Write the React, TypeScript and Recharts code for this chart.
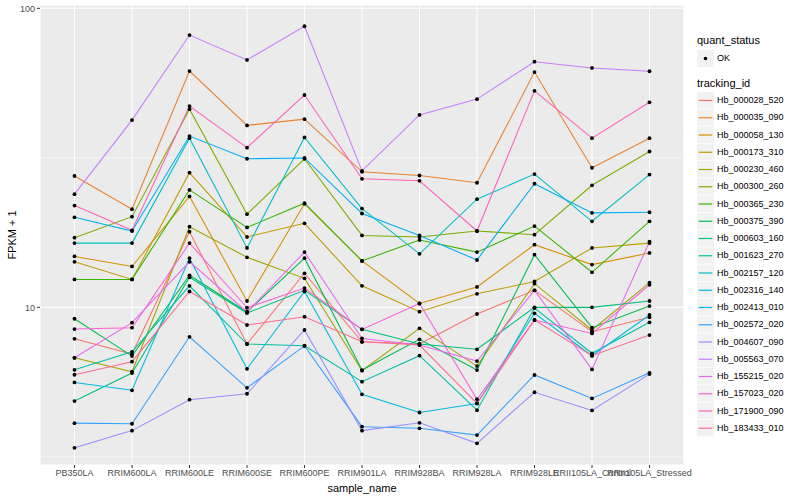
import React from 'react'
import { LineChart, Line, XAxis, YAxis, CartesianGrid, ReferenceLine } from 'recharts'

const SAMPLES = [
  'PB350LA', 'RRIM600LA', 'RRIM600LE', 'RRIM600SE', 'RRIM600PE', 'RRIM901LA',
  'RRIM928BA', 'RRIM928LA', 'RRIM928LE', 'RRII105LA_Control', 'RRII105LA_Stressed',
]

// FPKM + 1, one value per sample
const hb_000028_520 = [7.85, 6.98, 17.9, 7.54, 13.0, 7.67, 7.54, 9.5, 11.4, 8.29, 9.26]
const hb_000035_090 = [27.5, 21.3, 61.7, 40.6, 42.6, 28.4, 27.6, 26.1, 61.2, 29.3, 36.8]
const hb_000058_130 = [14.8, 13.7, 23.5, 10.5, 22.2, 14.3, 10.3, 11.7, 16.2, 13.9, 15.2]
const hb_000173_310 = [14.2, 12.4, 28.2, 17.2, 19.1, 11.8, 9.67, 11.1, 12.2, 15.8, 16.4]
const hb_000230_460 = [6.78, 6.09, 18.6, 14.7, 12.5, 6.14, 8.51, 6.36, 12.0, 8.4, 12.1]
const hb_000300_260 = [17.1, 20.1, 46.0, 20.5, 31.4, 17.4, 17.2, 18.0, 17.5, 25.6, 33.2]
const hb_000365_230 = [12.4, 12.4, 24.7, 18.5, 22.3, 14.3, 16.8, 15.3, 18.7, 13.1, 19.4]
const hb_000375_390 = [9.16, 6.87, 12.8, 9.65, 14.6, 6.17, 7.82, 6.17, 15.0, 8.55, 10.1]
const hb_000603_160 = [4.86, 6.03, 12.6, 9.57, 11.4, 8.44, 7.54, 7.24, 10.0, 10.0, 10.5]
const hb_001623_270 = [6.18, 7.1, 11.8, 7.54, 7.44, 5.64, 6.89, 4.53, 9.95, 7.02, 8.91]
const hb_002157_120 = [16.4, 16.4, 36.8, 15.8, 37.0, 21.4, 15.1, 23.0, 27.9, 19.4, 27.8]
const hb_002316_140 = [5.61, 5.28, 14.6, 6.23, 11.3, 5.12, 4.45, 4.77, 9.55, 6.89, 9.43]
const hb_002413_010 = [20.0, 18.0, 37.4, 31.4, 31.6, 20.6, 17.4, 14.4, 25.9, 20.7, 20.8]
const hb_002572_020 = [4.1, 4.08, 7.97, 5.38, 7.43, 3.99, 3.94, 3.74, 5.94, 4.96, 6.04]
const hb_004607_090 = [3.39, 3.87, 4.91, 5.14, 8.4, 3.87, 4.11, 3.51, 5.2, 4.52, 5.98]
const hb_005563_070 = [23.9, 42.3, 81.4, 67.2, 87.1, 28.6, 44.0, 49.7, 66.3, 63.2, 61.6]
const hb_155215_020 = [6.78, 8.89, 14.2, 9.65, 15.3, 7.87, 7.48, 6.61, 11.4, 6.2, 16.6]
const hb_157023_020 = [8.46, 8.55, 16.4, 9.97, 11.6, 8.44, 10.3, 4.93, 9.07, 8.18, 11.9]
const hb_171900_090 = [21.9, 18.1, 47.1, 34.2, 51.3, 26.9, 26.5, 18.0, 53.0, 36.8, 48.5]
const hb_183433_010 = [5.95, 6.58, 11.3, 8.73, 9.3, 7.67, 7.48, 4.77, 9.07, 6.89, 8.08]

const SERIES: [string, number[]][] = [
  ['Hb_000028_520', hb_000028_520],
  ['Hb_000035_090', hb_000035_090],
  ['Hb_000058_130', hb_000058_130],
  ['Hb_000173_310', hb_000173_310],
  ['Hb_000230_460', hb_000230_460],
  ['Hb_000300_260', hb_000300_260],
  ['Hb_000365_230', hb_000365_230],
  ['Hb_000375_390', hb_000375_390],
  ['Hb_000603_160', hb_000603_160],
  ['Hb_001623_270', hb_001623_270],
  ['Hb_002157_120', hb_002157_120],
  ['Hb_002316_140', hb_002316_140],
  ['Hb_002413_010', hb_002413_010],
  ['Hb_002572_020', hb_002572_020],
  ['Hb_004607_090', hb_004607_090],
  ['Hb_005563_070', hb_005563_070],
  ['Hb_155215_020', hb_155215_020],
  ['Hb_157023_020', hb_157023_020],
  ['Hb_171900_090', hb_171900_090],
  ['Hb_183433_010', hb_183433_010],
]

const Y_TICKS = [10, 100]
const Y_MINOR = [3.1623, 31.623]
const Y_DOMAIN: [number, number] = [2.97, 102.6]

// ggplot hue palette, 20 levels
const COLORS = [
  '#F8766D', '#EA8331', '#D89000', '#C09B00', '#A3A500', '#7CAE00', '#39B600', '#00BB4E', '#00BF7D', '#00C1A3',
  '#00BFC4', '#00BAE0', '#00B0F6', '#35A2FF', '#9590FF', '#C77CFF', '#E76BF3', '#FA62DB', '#FF62BC', '#FF6C91',
]

const FONT = "'Liberation Sans', Arial, Helvetica, sans-serif"

const rows = SAMPLES.map((s, i) => {
  const row: Record<string, string | number> = { sample: s }
  SERIES.forEach(([id, vals]) => { row[id] = vals[i] })
  return row
})

function Legend() {
  const KEY = 17
  const top0 = 92
  return (
    <div style={{ position: 'absolute', left: 0, top: 0, fontFamily: FONT }}>
      <div style={{ position: 'absolute', left: 697, top: 34, fontSize: 11, color: '#000', whiteSpace: 'nowrap' }}>quant_status</div>
      <svg style={{ position: 'absolute', left: 697, top: 50 }} width={KEY} height={KEY}>
        <rect x={0} y={0} width={KEY} height={KEY} fill="#F2F2F2" />
        <circle cx={8.5} cy={8.5} r={1.8} fill="#000" />
      </svg>
      <div style={{ position: 'absolute', left: 717, top: 53, fontSize: 9, color: '#000' }}>OK</div>
      <div style={{ position: 'absolute', left: 697, top: 77, fontSize: 11, color: '#000', whiteSpace: 'nowrap' }}>tracking_id</div>
      <svg style={{ position: 'absolute', left: 697, top: top0 }} width={KEY} height={SERIES.length * 17.25}>
        {SERIES.map(([id], i) => {
          const y = i * 17.25
          return (
            <g key={id}>
              <rect x={0} y={y} width={KEY} height={KEY - 0.5} fill="#F2F2F2" />
              <line x1={1.7} x2={KEY - 1.7} y1={y + 8.5} y2={y + 8.5} stroke={COLORS[i]} strokeWidth={1.2} />
            </g>
          )
        })}
      </svg>
      {SERIES.map(([id], i) => (
        <div key={id} style={{ position: 'absolute', left: 717, top: top0 + i * 17.25 + 3, fontSize: 9, color: '#000', whiteSpace: 'nowrap' }}>{id}</div>
      ))}
    </div>
  )
}

export default function App() {
  const tick = { fontSize: 9, fill: '#4D4D4D', fontFamily: FONT }
  return (
    <div style={{ position: 'relative', width: 800, height: 500, background: '#fff', fontFamily: FONT }}>
      <style>{`body { margin: 0; }`}</style>
      <LineChart width={800} height={500} data={rows} margin={{ top: 5, right: 116, bottom: 0, left: 0 }}>
        <CartesianGrid fill="#EBEBEB" stroke="#FFFFFF" strokeWidth={1.07} />
        {Y_MINOR.map((v) => (
          <ReferenceLine key={v} y={v} stroke="#FFFFFF" strokeWidth={0.55} ifOverflow="hidden" />
        ))}
        <XAxis
          dataKey="sample"
          type="category"
          padding={{ left: 34.5, right: 34.5 }}
          interval={0}
          height={35}
          axisLine={false}
          tickSize={3}
          tickMargin={2}
          tickLine={{ stroke: '#333333', strokeWidth: 1 }}
          tick={tick}
        />
        <YAxis
          type="number"
          scale="log"
          domain={Y_DOMAIN}
          allowDataOverflow
          ticks={Y_TICKS}
          width={40}
          axisLine={false}
          tickSize={3}
          tickMargin={2}
          tickLine={{ stroke: '#333333', strokeWidth: 1 }}
          tick={tick}
        />
        {SERIES.map(([id], i) => (
          <Line
            key={id}
            dataKey={id}
            stroke={COLORS[i]}
            strokeWidth={1.07}
            dot={false}
            activeDot={false}
            type="linear"
            isAnimationActive={false}
          />
        ))}
        {SERIES.map(([id]) => (
          <Line
            key={id + '_pt'}
            dataKey={id}
            stroke="none"
            dot={{ r: 1.9, fill: '#000', stroke: 'none' }}
            activeDot={false}
            type="linear"
            isAnimationActive={false}
          />
        ))}
      </LineChart>
      <div style={{ position: 'absolute', left: 362, top: 482, transform: 'translateX(-50%)', fontSize: 11, color: '#000', whiteSpace: 'nowrap' }}>
        sample_name
      </div>
      <div style={{ position: 'absolute', left: 12, top: 235, transform: 'translate(-50%, -50%) rotate(-90deg)', fontSize: 11, color: '#000', whiteSpace: 'nowrap' }}>
        FPKM + 1
      </div>
      <Legend />
    </div>
  )
}
